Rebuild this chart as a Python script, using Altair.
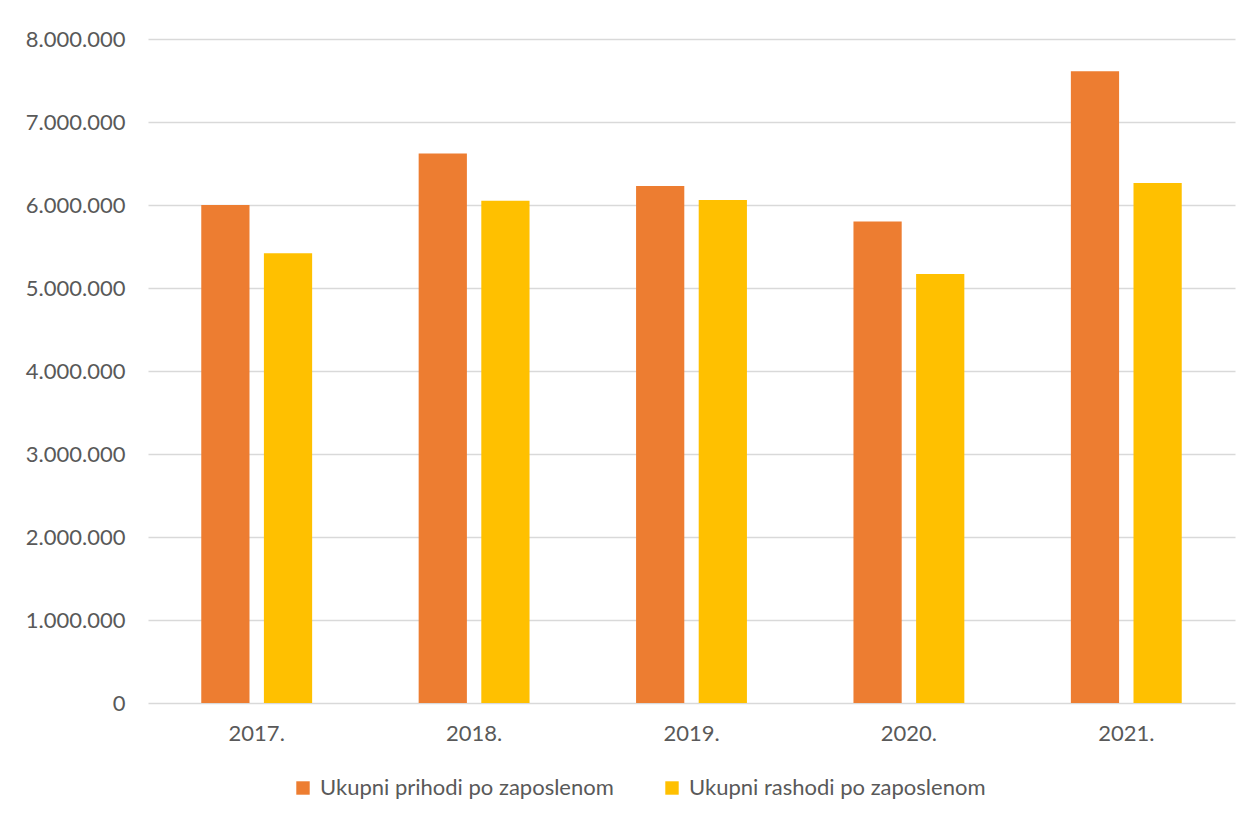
import altair as alt
import pandas as pd

years = ["2017.", "2018.", "2019.", "2020.", "2021."]
series = ["Ukupni prihodi po zaposlenom", "Ukupni rashodi po zaposlenom"]
prihodi = [6000000, 6620000, 6230000, 5800000, 7610000]
rashodi = [5420000, 6050000, 6060000, 5170000, 6265000]
colors = ["#ED7D31", "#FFC000"]
y_ticks = [0, 1000000, 2000000, 3000000, 4000000, 5000000, 6000000, 7000000, 8000000]

rows = []
for i, y in enumerate(years):
    rows.append({"godina": y, "serija": series[0], "vrijednost": prihodi[i]})
    rows.append({"godina": y, "serija": series[1], "vrijednost": rashodi[i]})
df = pd.DataFrame(rows)

FONT = "Lato"
TXT = "#595959"
GRID = "#D9D9D9"
FS = 22

chart = (
    alt.Chart(df)
    .mark_bar()
    .encode(
        x=alt.X(
            "godina:N",
            sort=years,
            title=None,
            scale=alt.Scale(paddingInner=0.49, paddingOuter=0.245),
            axis=alt.Axis(
                labelAngle=0,
                labelFont=FONT,
                labelFontSize=FS,
                labelColor=TXT,
                labelPadding=20,
                ticks=False,
                tickSize=0,
                domain=False,
                grid=False,
            ),
        ),
        xOffset=alt.XOffset(
            "serija:N",
            sort=series,
            scale=alt.Scale(paddingInner=0.23, paddingOuter=0),
        ),
        y=alt.Y(
            "vrijednost:Q",
            title=None,
            scale=alt.Scale(domain=[0, 8000000], nice=False),
            axis=alt.Axis(
                values=y_ticks,
                labelExpr="replace(replace(format(datum.value, ','), ',', '.'), ',', '.')",
                labelFont=FONT,
                labelFontSize=FS,
                labelColor=TXT,
                labelPadding=23,
                ticks=False,
                tickSize=0,
                domain=False,
                grid=True,
                gridColor=GRID,
                gridWidth=1.4,
            ),
        ),
        color=alt.Color(
            "serija:N",
            sort=series,
            scale=alt.Scale(domain=series, range=colors),
            legend=alt.Legend(
                title=None,
                orient="none",
                direction="horizontal",
                legendX=144,
                legendY=738,
                symbolType="square",
                symbolSize=180,
                symbolStrokeWidth=0,
                labelFont=FONT,
                labelFontSize=FS,
                labelColor=TXT,
                labelOffset=6,
                labelLimit=0,
                columnPadding=47,
                padding=0,
            ),
        ),
    )
    .properties(
        width=1087,
        height=664,
        background="white",
        autosize=alt.AutoSizeParams(type="none"),
        padding={"left": 140, "top": 31, "right": 12, "bottom": 108},
    )
    .configure_view(strokeOpacity=0, strokeWidth=0)
)

chart.save("out.html", embed_options={"renderer": "svg", "actions": False})
